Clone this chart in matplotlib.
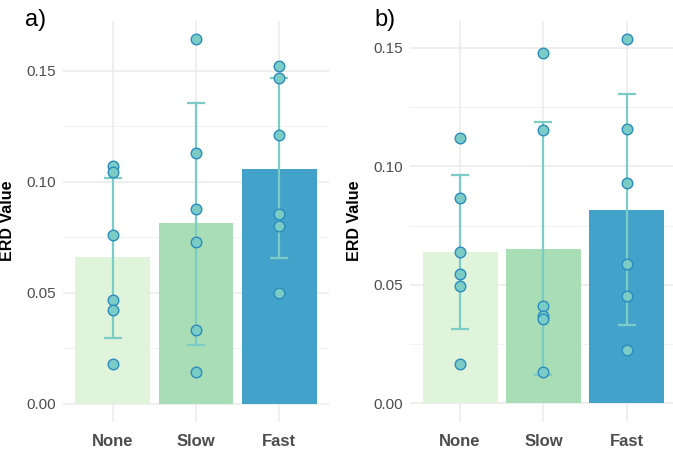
import matplotlib.pyplot as plt
import numpy as np

plt.rcParams['font.family'] = ['Liberation Sans', 'DejaVu Sans']

categories = ['None', 'Slow', 'Fast']
bar_colors = ['#E0F3DB', '#A8DDB5', '#43A2CA']

# panel a
a_means = [0.0658, 0.0813, 0.1057]
a_err_low = [0.0297, 0.0264, 0.0655]
a_err_high = [0.1018, 0.1356, 0.1466]
a_points = [
    [0.1068, 0.1042, 0.0760, 0.0467, 0.0421, 0.0179],
    [0.1643, 0.1131, 0.0877, 0.0727, 0.0333, 0.0141],
    [0.1521, 0.1468, 0.1210, 0.0853, 0.0800, 0.0500],
]

# panel b
b_means = [0.0639, 0.0651, 0.0817]
b_err_low = [0.0314, 0.0122, 0.0331]
b_err_high = [0.0966, 0.1187, 0.1304]
b_points = [
    [0.1121, 0.0868, 0.0637, 0.0546, 0.0494, 0.0168],
    [0.1477, 0.1152, 0.0412, 0.0371, 0.0357, 0.0132],
    [0.1538, 0.1159, 0.0930, 0.0589, 0.0454, 0.0224],
]

yticks = [0.00, 0.05, 0.10, 0.15]
minor_yticks = [0.025, 0.075, 0.125]


def draw_panel(ax, means, lo, hi, points, ylim):
    x = np.arange(1, len(categories) + 1)
    ax.set_xlim(0.4, 3.6)
    ax.set_ylim(*ylim)
    ax.set_facecolor('white')
    for s in ax.spines.values():
        s.set_visible(False)

    # grid like theme_minimal
    for v in yticks:
        ax.axhline(v, color='#EBEBEB', lw=1.1, zorder=0)
    for v in minor_yticks:
        ax.axhline(v, color='#F2F2F2', lw=0.8, zorder=0)
    for xi in x:
        ax.axvline(xi, color='#EBEBEB', lw=1.1, zorder=0)

    ax.bar(x, means, width=0.9, color=bar_colors, zorder=1)

    m = np.array(means)
    yerr = [m - np.array(lo), np.array(hi) - m]
    ax.errorbar(x, m, yerr=yerr, fmt='none', ecolor='#7BCCC4',
                elinewidth=1.6, capsize=6.2, capthick=1.6, zorder=2)

    for xi, pts in zip(x, points):
        ax.scatter([xi] * len(pts), pts, s=58, facecolor='#7BCCC4',
                   edgecolor='#2B8CBE', linewidth=1.0, zorder=3)

    ax.set_xticks(x)
    ax.set_xticklabels(categories, fontsize=12, fontweight='bold', color='#4D4D4D')
    ax.set_yticks(yticks)
    ax.set_yticklabels([f'{v:.2f}' for v in yticks], fontsize=11, color='#4D4D4D')
    ax.tick_params(axis='both', length=0)
    ax.tick_params(axis='x', pad=9)
    ax.tick_params(axis='y', pad=5)
    ax.set_ylabel('ERD Value', fontsize=11.5, fontweight='bold')
    ax.yaxis.set_label_coords(-0.179, 0.5)


fig = plt.figure(figsize=(6.73, 4.53), dpi=100)
ax1 = fig.add_axes([0.0932, 0.0691, 0.3961, 0.8852])
ax2 = fig.add_axes([0.6092, 0.0691, 0.3967, 0.8852])

draw_panel(ax1, a_means, a_err_low, a_err_high, a_points, (-0.0082, 0.1725))
draw_panel(ax2, b_means, b_err_low, b_err_high, b_points, (-0.0077, 0.1615))

fig.text(25 / 673, 1 - 20 / 453, 'a)', fontsize=17, va='center', ha='left')
fig.text(374 / 673, 1 - 20 / 453, 'b)', fontsize=17, va='center', ha='left')

fig.savefig('out.png', dpi=100)
